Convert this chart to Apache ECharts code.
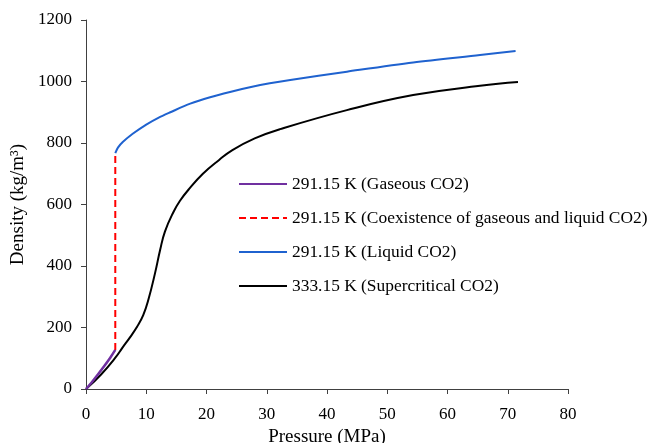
<!DOCTYPE html>
<html>
<head>
<meta charset="utf-8">
<script src="https://cdn.jsdelivr.net/npm/echarts@6/dist/echarts.min.js"></script>
<style>
html,body{margin:0;padding:0;background:#fff;}
#c{width:649px;height:443px;}
</style>
</head>
<body>
<div id="c"></div>
<script>
// Data (Pressure in MPa, Density in kg/m3)
const gasP = [0, 1, 2, 3, 4, 4.86];
const gasD = [0, 23, 48, 74, 101, 127];

const coexP = [4.86, 4.86];
const coexD = [127, 767];

const liqP = [4.86, 5.3, 6.1, 7.75, 10, 12, 14, 17.3, 20.6, 23.9, 27.2, 30.5, 33.9, 43.3, 54.3, 65.4, 71.3];
const liqD = [767, 785, 803, 830, 860, 882, 900, 928, 949, 966, 981, 994, 1005, 1032, 1062, 1086, 1099];

const supP = [0, 2.5, 5, 6, 7.3, 8.5, 9.5, 10.35, 11.45, 12.3, 13.1, 14.5, 15.6, 17, 19.4, 22.1, 24.3, 28, 32.2, 43.3, 54.3, 65.4, 71.7];
const supD = [0, 47, 105, 133, 168, 203, 240, 290, 376, 452, 512, 575, 612, 648, 700, 745, 777, 815, 845, 907, 956, 986, 998];

const seriesNames = [
  '291.15 K (Gaseous CO2)',
  '291.15 K (Coexistence of gaseous and liquid CO2)',
  '291.15 K (Liquid CO2)',
  '333.15 K (Supercritical CO2)'
];

const xTicks = {min: 0, max: 80, interval: 10};
const yTicks = {min: 0, max: 1200, interval: 200};

function pairs(xs, ys) { return xs.map((x, i) => [x, ys[i]]); }

const font = "'Liberation Serif', 'Times New Roman', serif";
const chart = echarts.init(document.getElementById('c'), null, {renderer: 'canvas'});
chart.setOption({
  animation: false,
  backgroundColor: '#ffffff',
  textStyle: {fontFamily: font},
  grid: {left: 86, right: 81, top: 20, bottom: 54, outerBoundsMode: 'none', containLabel: false},
  legend: {
    orient: 'vertical',
    left: 233,
    top: 169,
    itemWidth: 48,
    itemHeight: 14,
    itemGap: 14,
    itemStyle: {opacity: 0},
    textStyle: {fontFamily: font, fontSize: 17.4, color: '#000', lineHeight: 20},
    data: seriesNames
  },
  xAxis: {
    type: 'value',
    min: xTicks.min, max: xTicks.max, interval: xTicks.interval,
    name: 'Pressure (MPa)',
    nameLocation: 'middle',
    nameGap: 33,
    nameTextStyle: {fontFamily: font, fontSize: 19, color: '#000'},
    axisLine: {show: true, onZero: false, lineStyle: {color: '#404040', width: 1}},
    axisTick: {show: true, inside: false, length: 5, lineStyle: {color: '#404040'}},
    axisLabel: {fontFamily: font, fontSize: 17, color: '#000', margin: 17},
    splitLine: {show: false}
  },
  yAxis: {
    type: 'value',
    min: yTicks.min, max: yTicks.max, interval: yTicks.interval,
    name: 'Density (kg/m³)',
    nameLocation: 'middle',
    nameGap: 41,
    nameTextStyle: {fontFamily: font, fontSize: 19, color: '#000'},
    axisLine: {show: true, onZero: false, lineStyle: {color: '#404040', width: 1}},
    axisTick: {show: true, inside: false, length: 5, lineStyle: {color: '#404040'}},
    axisLabel: {fontFamily: font, fontSize: 17, color: '#000', margin: 14, formatter: v => String(v)},
    splitLine: {show: false}
  },
  series: [
    {
      name: seriesNames[0], type: 'line', data: pairs(gasP, gasD),
      symbol: 'none', smooth: 0.3,
      lineStyle: {color: '#7030A0', width: 2.5},
      itemStyle: {color: '#7030A0'}, z: 4
    },
    {
      name: seriesNames[1], type: 'line', data: pairs(coexP, coexD),
      symbol: 'none',
      lineStyle: {color: '#FF0000', width: 2, type: [7, 4]},
      itemStyle: {color: '#FF0000'}, z: 3
    },
    {
      name: seriesNames[2], type: 'line', data: pairs(liqP, liqD),
      symbol: 'none', smooth: 0.3,
      lineStyle: {color: '#1F62CF', width: 2},
      itemStyle: {color: '#1F62CF'}, z: 3
    },
    {
      name: seriesNames[3], type: 'line', data: pairs(supP, supD),
      symbol: 'none', smooth: 0.45,
      lineStyle: {color: '#000000', width: 2},
      itemStyle: {color: '#000000'}, z: 2
    }
  ]
});
</script>
</body>
</html>
